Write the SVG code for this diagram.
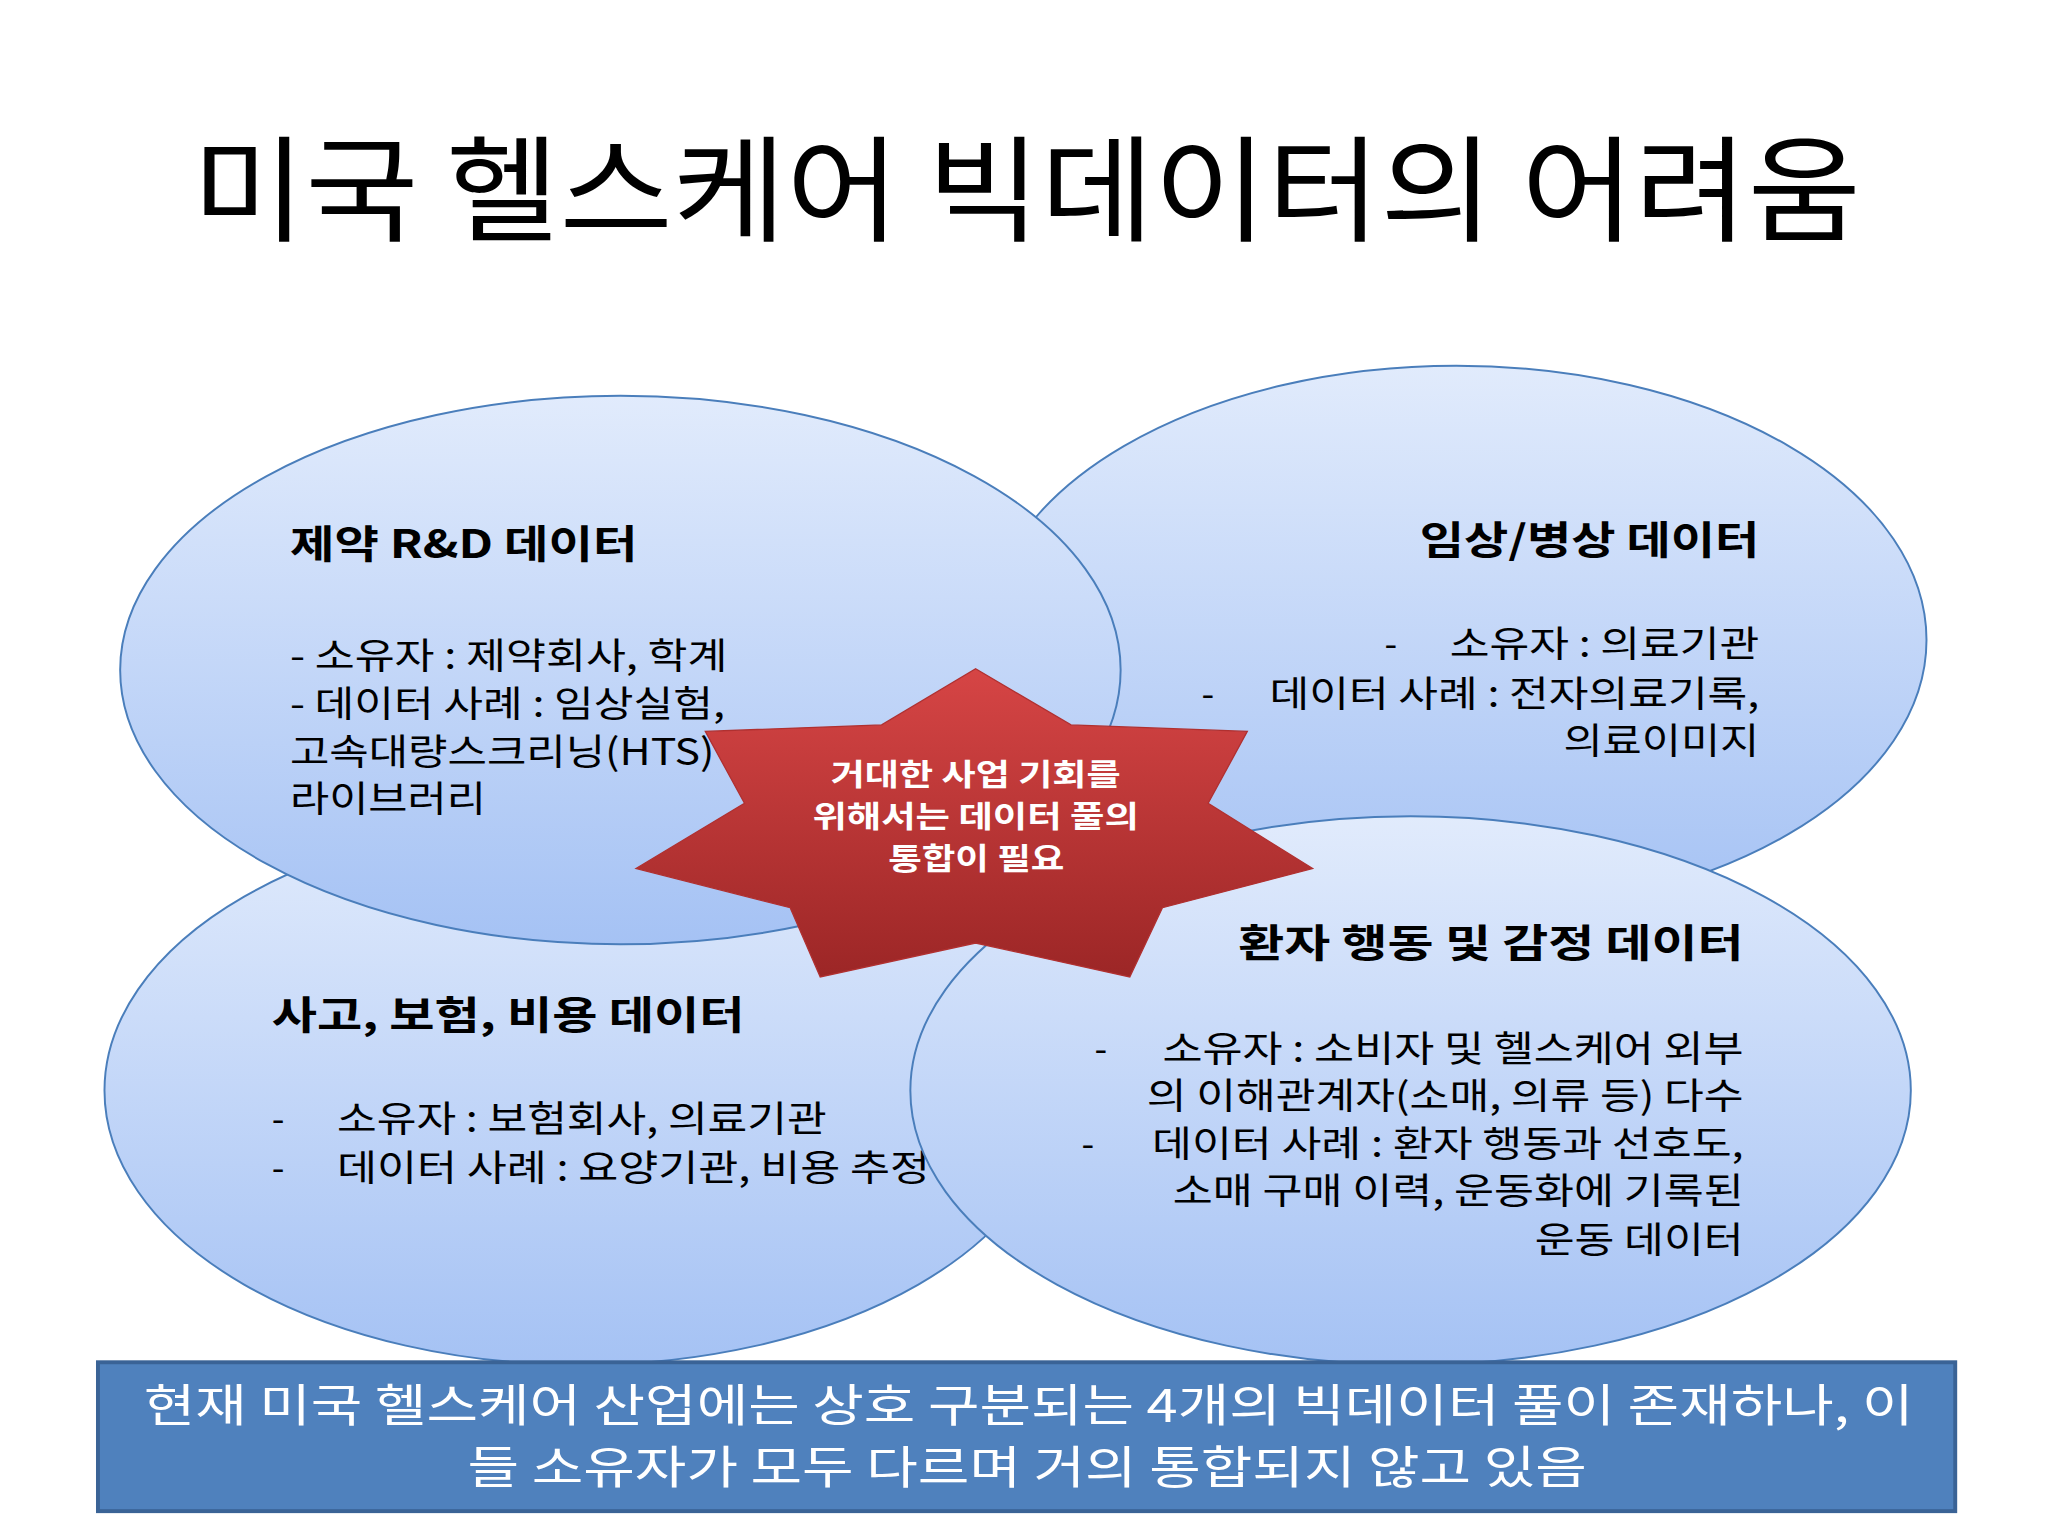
<svg xmlns="http://www.w3.org/2000/svg" width="2048" height="1536" viewBox="0 0 2048 1536">
<defs>
<linearGradient id="bl" x1="0" y1="0" x2="0" y2="1"><stop offset="0" stop-color="#e1ebfc"/><stop offset="1" stop-color="#a5c2f4"/></linearGradient>
<linearGradient id="rd" x1="0" y1="0" x2="0" y2="1"><stop offset="0" stop-color="#d64545"/><stop offset="1" stop-color="#9c2626"/></linearGradient>
<style>
.e{fill:url(#bl);stroke:#4a7ebb;stroke-width:1.5}
.h{font-family:"Noto Sans CJK KR","Liberation Sans",sans-serif;font-weight:bold;font-size:30px;fill:#000}
.t{font-family:"Noto Sans CJK KR","Liberation Sans",sans-serif;font-size:28px;fill:#000}
.s{font-family:"Noto Sans CJK KR","Liberation Sans",sans-serif;font-weight:bold;font-size:23px;fill:#fff}
.b{font-family:"Noto Sans CJK KR","Liberation Sans",sans-serif;font-size:35px;fill:#fff}
</style>
</defs>
<rect width="2048" height="1536" fill="#fff"/>
<g transform="scale(1.3061)">
<text x="147" y="178" textLength="1278" lengthAdjust="spacingAndGlyphs" font-family="Noto Sans CJK KR, Liberation Sans, sans-serif" font-size="88">미국 헬스케어 빅데이터의 어려움</text>
<g id="tr"><ellipse class="e" cx="1115" cy="490" rx="360" ry="210"/>
<text class="h" x="1087" y="424" textLength="260" lengthAdjust="spacingAndGlyphs">임상/병상 데이터</text>
<text class="t" x="1060" y="503">-</text><text class="t" x="1110" y="503" textLength="237" lengthAdjust="spacingAndGlyphs">소유자 : 의료기관</text>
<text class="t" x="920" y="541">-</text><text class="t" x="972" y="541" textLength="375" lengthAdjust="spacingAndGlyphs">데이터 사례 : 전자의료기록,</text>
<text class="t" x="1197" y="577" textLength="150" lengthAdjust="spacingAndGlyphs">의료이미지</text></g>
<g id="bl"><ellipse class="e" cx="445" cy="835" rx="365" ry="210"/>
<text class="h" x="208" y="788" textLength="362" lengthAdjust="spacingAndGlyphs">사고, 보험, 비용 데이터</text>
<text class="t" x="208" y="867">-</text><text class="t" x="258" y="867" textLength="375" lengthAdjust="spacingAndGlyphs">소유자 : 보험회사, 의료기관</text>
<text class="t" x="208" y="904">-</text><text class="t" x="258" y="904" textLength="454" lengthAdjust="spacingAndGlyphs">데이터 사례 : 요양기관, 비용 추정</text></g>
<g id="br"><ellipse class="e" cx="1080" cy="835" rx="383" ry="210"/>
<text class="h" x="948" y="733" textLength="387" lengthAdjust="spacingAndGlyphs">환자 행동 및 감정 데이터</text>
<text class="t" x="838" y="813">-</text><text class="t" x="890" y="813" textLength="445" lengthAdjust="spacingAndGlyphs">소유자 : 소비자 및 헬스케어 외부</text>
<text class="t" x="878" y="849" textLength="457" lengthAdjust="spacingAndGlyphs">의 이해관계자(소매, 의류 등) 다수</text>
<text class="t" x="828" y="886">-</text><text class="t" x="882" y="886" textLength="453" lengthAdjust="spacingAndGlyphs">데이터 사례 : 환자 행동과 선호도,</text>
<text class="t" x="898" y="922" textLength="437" lengthAdjust="spacingAndGlyphs">소매 구매 이력, 운동화에 기록된</text>
<text class="t" x="1175" y="959" textLength="160" lengthAdjust="spacingAndGlyphs">운동 데이터</text></g>
<g id="tl"><ellipse class="e" cx="475" cy="513" rx="383" ry="210"/>
<text class="h" x="222" y="427" textLength="266" lengthAdjust="spacingAndGlyphs">제약 R&amp;D 데이터</text>
<text class="t" x="222" y="512" textLength="335" lengthAdjust="spacingAndGlyphs">- 소유자 : 제약회사, 학계</text>
<text class="t" x="222" y="549" textLength="333" lengthAdjust="spacingAndGlyphs">- 데이터 사례 : 임상실험,</text>
<text class="t" x="222" y="586" textLength="325" lengthAdjust="spacingAndGlyphs">고속대량스크리닝(HTS)</text>
<text class="t" x="222" y="622" textLength="150" lengthAdjust="spacingAndGlyphs">라이브러리</text></g>
<g id="star"><polygon points="747,512 820,555 955,560 925,615 1005,665 890,695 865,748 747,722 628,748 605,695 487,665 570,615 540,560 675,555" fill="url(#rd)" stroke="#b03030" stroke-width="1"/>
<text class="s" x="636" y="601" textLength="222" lengthAdjust="spacingAndGlyphs">거대한 사업 기회를</text>
<text class="s" x="622" y="633" textLength="250" lengthAdjust="spacingAndGlyphs">위해서는 데이터 풀의</text>
<text class="s" x="680" y="665" textLength="135" lengthAdjust="spacingAndGlyphs">통합이 필요</text></g>
<g id="bottom"><rect x="75" y="1043" width="1422" height="114" fill="#4f81bd" stroke="#3a6396" stroke-width="3"/>
<text class="b" x="110" y="1089" textLength="1355" lengthAdjust="spacingAndGlyphs">현재 미국 헬스케어 산업에는 상호 구분되는 4개의 빅데이터 풀이 존재하나, 이</text>
<text class="b" x="358" y="1136" textLength="857" lengthAdjust="spacingAndGlyphs">들 소유자가 모두 다르며 거의 통합되지 않고 있음</text></g>
<g id="connectors"/>
</g>
</svg>
